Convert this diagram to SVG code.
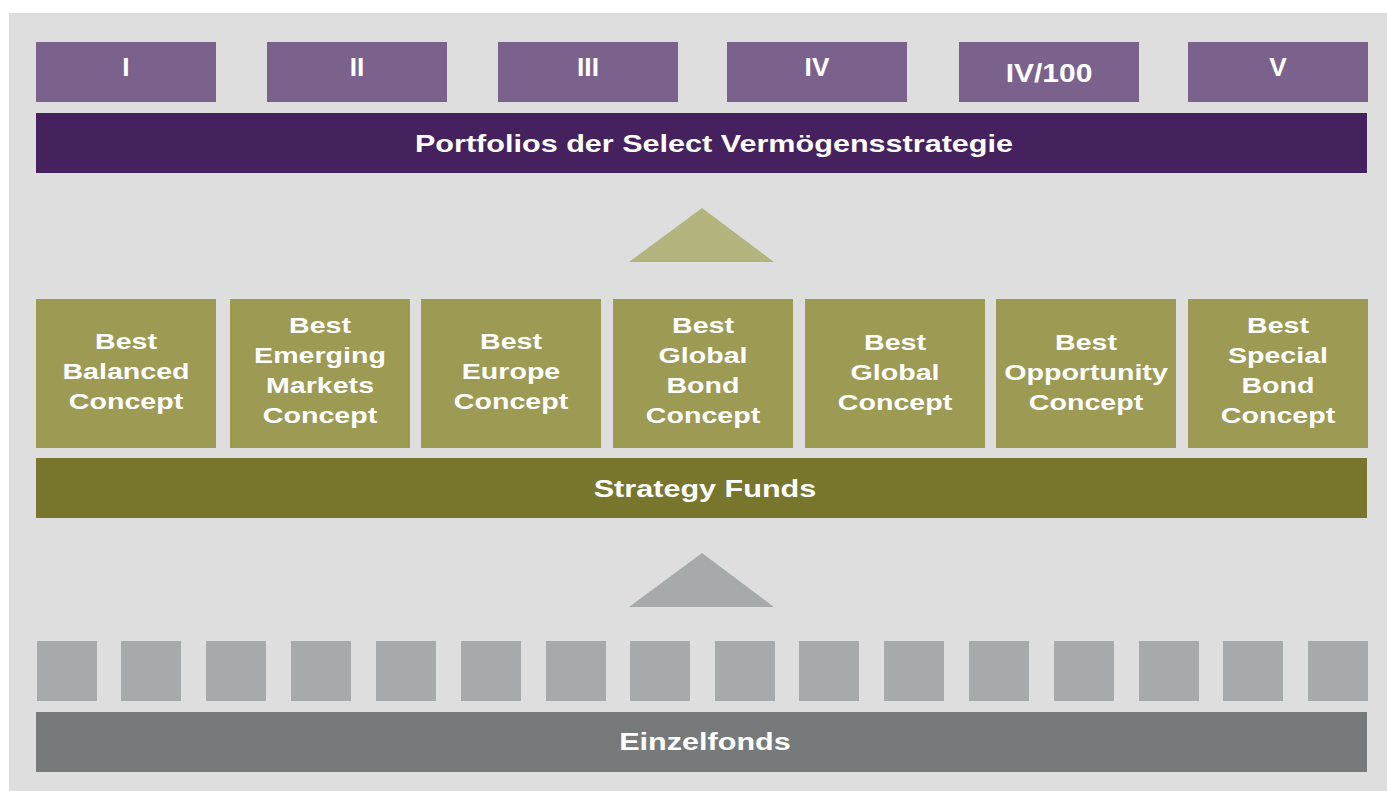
<svg xmlns="http://www.w3.org/2000/svg" width="1387" height="791" viewBox="0 0 1387 791">
  <style>
    .bg { fill: #dedede; }
    .tier { fill: #7b628c; }
    .portfolio { fill: #45225d; }
    .concept { fill: #9d9a54; }
    .strategy { fill: #78752d; }
    .fund { fill: #a7aaaa; }
    .single { fill: #777a7a; }
    .up-olive { fill: #b4b47f; }
    .up-grey { fill: #a7aaaa; }
    text { font-family: "Liberation Sans", Arial, Helvetica, sans-serif; font-weight: bold; fill: #ffffff; text-anchor: middle; }
    .num { font-size: 25px; }
    .bar { font-size: 23px; }
    .box { font-size: 22px; }
  </style>

  <rect class="bg" x="9" y="13" width="1378" height="778"/>

  <!-- portfolio tiers -->
  <g id="tier-i"><rect class="tier" x="36" y="42" width="180" height="60"/><g transform="translate(126 0) scale(1.05 1)"><text class="num" x="0" y="76">I</text></g></g>
  <g id="tier-ii"><rect class="tier" x="267" y="42" width="180" height="60"/><g transform="translate(357 0) scale(1.05 1)"><text class="num" x="0" y="76">II</text></g></g>
  <g id="tier-iii"><rect class="tier" x="498" y="42" width="180" height="60"/><g transform="translate(588 0) scale(1.05 1)"><text class="num" x="0" y="76">III</text></g></g>
  <g id="tier-iv"><rect class="tier" x="727" y="42" width="180" height="60"/><g transform="translate(817 0) scale(1.05 1)"><text class="num" x="0" y="76">IV</text></g></g>
  <g id="tier-iv100"><rect class="tier" x="959" y="42" width="180" height="60"/><g transform="translate(1049 0) scale(1.2 1)"><text class="num" x="0" y="82">IV/100</text></g></g>
  <g id="tier-v"><rect class="tier" x="1188" y="42" width="180" height="60"/><g transform="translate(1278 0) scale(1.05 1)"><text class="num" x="0" y="76">V</text></g></g>

  <g id="portfolios">
    <rect class="portfolio" x="36" y="113" width="1331" height="60"/>
    <g transform="translate(714 0) scale(1.33 1)"><text class="bar" x="0" y="152">Portfolios der Select Vermögensstrategie</text></g>
  </g>

  <!-- strategy fund concepts -->
  <g id="best-balanced">
    <rect class="concept" x="36" y="299" width="180" height="149"/>
    <g transform="translate(126 0) scale(1.3 1)"><text class="box" x="0" y="349">Best</text><text class="box" x="0" y="379">Balanced</text><text class="box" x="0" y="409">Concept</text></g>
  </g>
  <g id="best-emerging-markets">
    <rect class="concept" x="230" y="299" width="180" height="149"/>
    <g transform="translate(320 0) scale(1.3 1)"><text class="box" x="0" y="333">Best</text><text class="box" x="0" y="363">Emerging</text><text class="box" x="0" y="393">Markets</text><text class="box" x="0" y="423">Concept</text></g>
  </g>
  <g id="best-europe">
    <rect class="concept" x="421" y="299" width="180" height="149"/>
    <g transform="translate(511 0) scale(1.3 1)"><text class="box" x="0" y="349">Best</text><text class="box" x="0" y="379">Europe</text><text class="box" x="0" y="409">Concept</text></g>
  </g>
  <g id="best-global-bond">
    <rect class="concept" x="613" y="299" width="180" height="149"/>
    <g transform="translate(703 0) scale(1.3 1)"><text class="box" x="0" y="333">Best</text><text class="box" x="0" y="363">Global</text><text class="box" x="0" y="393">Bond</text><text class="box" x="0" y="423">Concept</text></g>
  </g>
  <g id="best-global">
    <rect class="concept" x="805" y="299" width="180" height="149"/>
    <g transform="translate(895 0) scale(1.3 1)"><text class="box" x="0" y="350">Best</text><text class="box" x="0" y="380">Global</text><text class="box" x="0" y="410">Concept</text></g>
  </g>
  <g id="best-opportunity">
    <rect class="concept" x="996" y="299" width="180" height="149"/>
    <g transform="translate(1086 0) scale(1.3 1)"><text class="box" x="0" y="350">Best</text><text class="box" x="0" y="380">Opportunity</text><text class="box" x="0" y="410">Concept</text></g>
  </g>
  <g id="best-special-bond">
    <rect class="concept" x="1188" y="299" width="180" height="149"/>
    <g transform="translate(1278 0) scale(1.3 1)"><text class="box" x="0" y="333">Best</text><text class="box" x="0" y="363">Special</text><text class="box" x="0" y="393">Bond</text><text class="box" x="0" y="423">Concept</text></g>
  </g>

  <g id="strategy-funds">
    <rect class="strategy" x="36" y="458" width="1331" height="60"/>
    <g transform="translate(705 0) scale(1.33 1)"><text class="bar" x="0" y="497">Strategy Funds</text></g>
  </g>

  <!-- individual funds -->
  <g id="single-funds">
    <rect class="fund" x="37" y="641" width="60" height="60"/>
    <rect class="fund" x="121" y="641" width="60" height="60"/>
    <rect class="fund" x="206" y="641" width="60" height="60"/>
    <rect class="fund" x="291" y="641" width="60" height="60"/>
    <rect class="fund" x="376" y="641" width="60" height="60"/>
    <rect class="fund" x="461" y="641" width="60" height="60"/>
    <rect class="fund" x="546" y="641" width="60" height="60"/>
    <rect class="fund" x="630" y="641" width="60" height="60"/>
    <rect class="fund" x="715" y="641" width="60" height="60"/>
    <rect class="fund" x="799" y="641" width="60" height="60"/>
    <rect class="fund" x="884" y="641" width="60" height="60"/>
    <rect class="fund" x="969" y="641" width="60" height="60"/>
    <rect class="fund" x="1054" y="641" width="60" height="60"/>
    <rect class="fund" x="1139" y="641" width="60" height="60"/>
    <rect class="fund" x="1223" y="641" width="60" height="60"/>
    <rect class="fund" x="1308" y="641" width="60" height="60"/>
  </g>

  <g id="einzelfonds">
    <rect class="single" x="36" y="712" width="1331" height="60"/>
    <g transform="translate(705 0) scale(1.33 1)"><text class="bar" x="0" y="750">Einzelfonds</text></g>
  </g>

  <!-- upward flow markers -->
  <g id="connectors">
    <polygon class="up-olive" points="702,208 774,262 629,262"/>
    <polygon class="up-grey" points="702,553 774,607 629,607"/>
  </g>
</svg>
